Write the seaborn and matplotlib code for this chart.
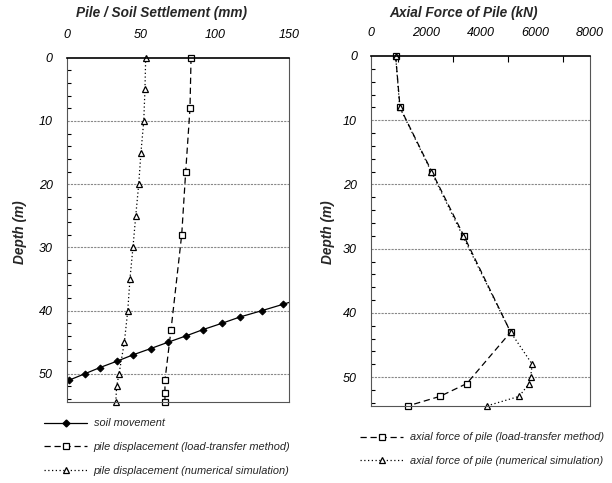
import matplotlib
matplotlib.use("Agg")
import matplotlib.pyplot as plt
from matplotlib.lines import Line2D
from matplotlib.ticker import MultipleLocator
import seaborn as sns
import pandas as pd

sns.set_theme(style="white")
plt.rcParams["font.family"] = ["Liberation Sans", "DejaVu Sans"]
plt.rcParams["font.style"] = "italic"

# Settlement (mm) versus depth (m)
soil_depth = [38, 39, 40, 41, 42, 43, 44, 45, 46, 47, 48, 49, 50, 51]
soil_settle = [160, 146, 131.8, 117, 104.8, 92, 80.5, 68.4, 56.7, 44.7, 33.9, 22.5, 12.1, 1.6]

ltm_depth = [0, 8, 18, 28, 43, 51, 53, 54.5]
ltm_settle = [83.9, 83.2, 80.3, 77.6, 70.4, 66.3, 66.3, 66.3]

num_depth = [0, 5, 10, 15, 20, 25, 30, 35, 40, 45, 50, 52, 54.5]
num_settle = [53.3, 52.8, 52.0, 50.1, 48.6, 46.6, 44.7, 42.7, 41.2, 38.9, 35.3, 33.7, 33.1]

# Axial force (kN) versus depth (m)
ltm_force_depth = [0, 8, 18, 28, 43, 51, 53, 54.5]
ltm_force = [900, 1060, 2220, 3390, 5100, 3500, 2520, 1340]

num_force_depth = [0, 8, 18, 28, 43, 48, 50, 51, 53, 54.5]
num_force = [900, 1050, 2200, 3350, 5100, 5890, 5830, 5780, 5410, 4220]

settle_ticks = [0, 50, 100, 150]
force_ticks = [0, 2000, 4000, 6000, 8000]
depth_ticks = [0, 10, 20, 30, 40, 50]

W, H = 612, 483
fig = plt.figure(figsize=(W / 100, H / 100), dpi=100)


def px_axes(x0, y0, x1, y1):
    return fig.add_axes([x0 / W, 1 - y1 / H, (x1 - x0) / W, (y1 - y0) / H])


ax1 = px_axes(66.7, 57.7, 289, 402.3)
ax2 = px_axes(371, 56, 590, 406)

solid = dict(color="black", linewidth=0.9, marker="D", markersize=3.5,
             markerfacecolor="black", markeredgecolor="black")
dashed = dict(color="black", linewidth=0.9, linestyle=(0, (5, 3)), marker="s",
              markersize=5, markerfacecolor="white", markeredgecolor="black",
              markeredgewidth=0.9)
dotted = dict(color="black", linewidth=0.9, linestyle=(0, (1, 2)), marker="^",
              markersize=5, markerfacecolor="white", markeredgecolor="black",
              markeredgewidth=0.9)

df_soil = pd.DataFrame({"x": soil_settle, "y": soil_depth})
df_ltm = pd.DataFrame({"x": ltm_settle, "y": ltm_depth})
df_num = pd.DataFrame({"x": num_settle, "y": num_depth})
sns.lineplot(data=df_soil, x="x", y="y", sort=False, estimator=None, ax=ax1, **solid)
sns.lineplot(data=df_ltm, x="x", y="y", sort=False, estimator=None, ax=ax1,
             clip_on=False, **dashed)
sns.lineplot(data=df_num, x="x", y="y", sort=False, estimator=None, ax=ax1,
             clip_on=False, **dotted)

df_fl = pd.DataFrame({"x": ltm_force, "y": ltm_force_depth})
df_fn = pd.DataFrame({"x": num_force, "y": num_force_depth})
sns.lineplot(data=df_fl, x="x", y="y", sort=False, estimator=None, ax=ax2,
             clip_on=False, **dashed)
sns.lineplot(data=df_fn, x="x", y="y", sort=False, estimator=None, ax=ax2,
             clip_on=False, **dotted)

for ax, xt, xmax, minor in ((ax1, settle_ticks, 150, 50), (ax2, force_ticks, 8000, 1000)):
    ax.set_xlim(0, xmax)
    ax.set_ylim(54.5, 0)
    ax.set_xticks(xt)
    ax.set_xticklabels([str(t) for t in xt], fontstyle="italic", fontsize=9)
    ax.xaxis.set_minor_locator(MultipleLocator(minor))
    ax.set_yticks(depth_ticks)
    ax.set_yticklabels([str(t) for t in depth_ticks], fontstyle="italic", fontsize=9)
    ax.yaxis.set_minor_locator(MultipleLocator(2))
    ax.xaxis.tick_top()
    ax.tick_params(axis="x", which="both", direction="in", top=True, bottom=False,
                   length=4, width=0.8, pad=12, colors="black")
    ax.tick_params(axis="x", which="major", length=0)
    ax.tick_params(axis="y", which="both", direction="in", left=True, right=False,
                   length=3, width=0.8, pad=10, colors="black")
    ax.tick_params(axis="y", which="major", length=0)
    for d in depth_ticks[1:]:
        ax.axhline(d, color="#888888", linewidth=0.8, linestyle=(0, (2, 1)), zorder=0)
    for s in ax.spines.values():
        s.set_color("#555555")
        s.set_linewidth(0.8)
    ax.spines["top"].set_color("black")
    ax.spines["top"].set_linewidth(1.2)
    ax.set_xlabel("")
    ax.set_ylabel("")
    ax.grid(False)

fig.text(162 / W, 1 - 13 / H, "Pile / Soil Settlement (mm)", ha="center", va="center",
         fontsize=9.8, fontweight="bold", fontstyle="italic")
fig.text(464 / W, 1 - 13 / H, "Axial Force of Pile (kN)", ha="center", va="center",
         fontsize=9.8, fontweight="bold", fontstyle="italic")
fig.text(20 / W, 1 - 232 / H, "Depth (m)", ha="center", va="center", rotation=90,
         fontsize=9.8, fontweight="bold", fontstyle="italic")
fig.text(328 / W, 1 - 232 / H, "Depth (m)", ha="center", va="center", rotation=90,
         fontsize=9.8, fontweight="bold", fontstyle="italic")

h_soil = Line2D([], [], **solid)
h_ltm = Line2D([], [], **dashed)
h_num = Line2D([], [], **dotted)

leg_kw = dict(frameon=False, handlelength=3.9, handletextpad=0.6, labelspacing=1.25,
              borderaxespad=0, prop=dict(size=7.9, style="italic"))
fig.legend([h_soil, h_ltm, h_num],
           ["soil movement", "pile displacement (load-transfer method)",
            "pile displacement (numerical simulation)"],
           loc="upper left", bbox_to_anchor=(40 / W, 1 - 414 / H), **leg_kw)
fig.legend([h_ltm, h_num],
           ["axial force of pile (load-transfer method)",
            "axial force of pile (numerical simulation)"],
           loc="upper left", bbox_to_anchor=(356 / W, 1 - 428 / H), **leg_kw)

fig.savefig("out.png", dpi=100, facecolor="white")
